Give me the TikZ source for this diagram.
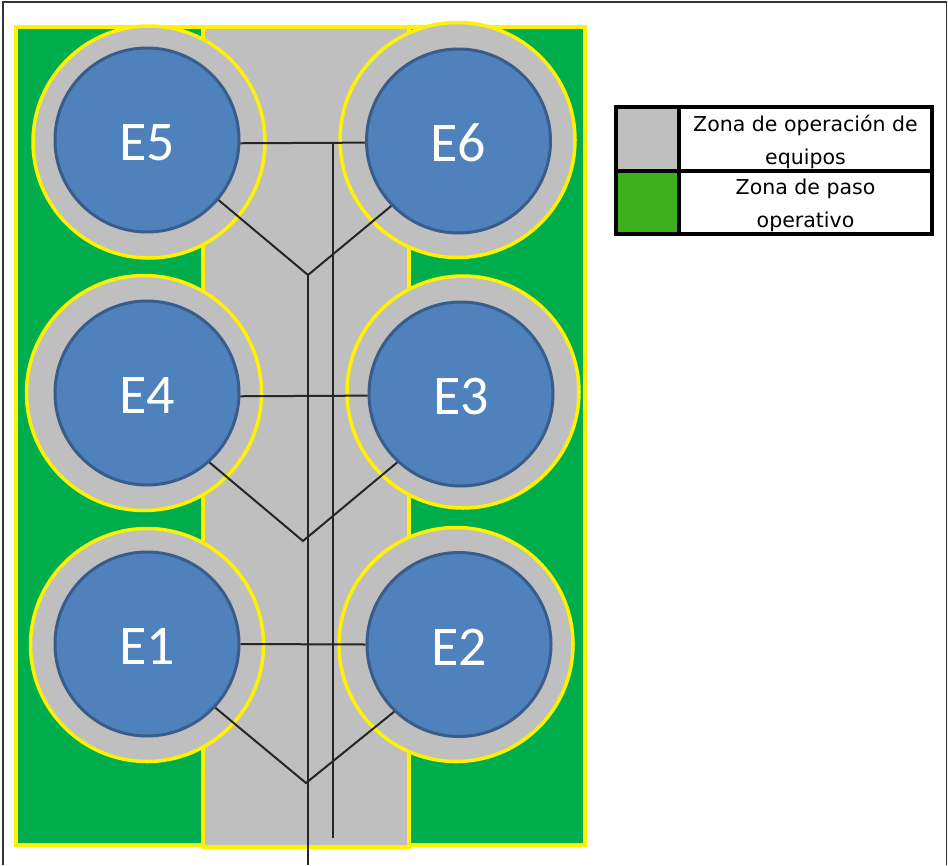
\documentclass[tikz,border=0pt]{standalone}
\usepackage{xcolor}
\usepackage{fontspec}
\setmainfont{Carlito}
\newfontfamily\legendfont{DejaVu Sans}
\usetikzlibrary{positioning}
\definecolor{zonegreen}{HTML}{00AD4D}
\definecolor{legendgreen}{HTML}{3CB01F}
\definecolor{zonegray}{HTML}{BFBFBF}
\definecolor{tankblue}{HTML}{4F81BD}
\definecolor{tankedge}{HTML}{385D8A}
\tikzset{
  zone/.style={draw=yellow,line width=3.5pt},
  ring/.style={circle,draw=yellow,fill=zonegray,line width=3.5pt,inner sep=0pt,minimum size=#1},
  tank/.style={circle,draw=tankedge,fill=tankblue,line width=3pt,text=white,inner sep=0pt,minimum size=184pt,font=\fontsize{56}{56}\selectfont},
  pipe/.style={draw=black!85,line width=2pt},
  swatch/.style={draw=black,line width=4pt,minimum width=63pt,minimum height=63.5pt,inner sep=0pt},
  legendcell/.style={draw=black,line width=4pt,fill=white,minimum width=253pt,minimum height=63.5pt,inner sep=0pt},
  legendtext/.style={inner sep=0pt,align=center,font=\legendfont\fontsize{20.5}{33}\selectfont}
}
\begin{document}
\begin{tikzpicture}[x=1pt,y=-1pt]
        \useasboundingbox (0,0) rectangle (948,865);
        \fill[white] (0,0) rectangle (948,865);
        \draw[black!80,line width=1.5pt] (3,865) -- (3,2) -- (946.5,2) -- (946.5,865);
        % zones
        \draw[zone,fill=zonegreen] (16,27) rectangle (585,845);
        \draw[zone,fill=zonegray] (203,27) rectangle (409,847);
        \foreach \name/\x/\y/\d in {R5/149/142/232, R6/457.5/140/235, R4/144/393/235, R3/463/392/232, R1/147/645/233, R2/456/644.5/234}
          \node[ring=\d pt] (\name) at (\x,\y) {};
        % tanks
        \foreach \name/\x/\y in {E5/147/140, E6/458.5/141, E4/147/393, E3/461/394, E1/147/644, E2/459/644.5}
          \node[tank] (\name) at (\x,\y) {\raisebox{-20.5pt}[0pt][0pt]{\name}};
        % junctions
        \coordinate (J56) at (308,275);
        \coordinate (J43) at (303,541);
        \coordinate (J12) at (306,783);
        \coordinate (T1) at (333,143);
        \coordinate (T1end) at (333,838);
        \coordinate (T2end) at (308,865);
        \draw[pipe] (E5.-2) -- (E6.181);
        \draw[pipe] (E4.-2) -- (E3.181);
        \draw[pipe] (E1.0) -- (E2.180);
        \draw[pipe] (T1) -- (T1end);
        \draw[pipe] (J56) -- (T2end);
        \draw[pipe] (E5.-40) -- (J56) -- (E6.-136.6);
        \draw[pipe] (E4.-48.5) -- (J43) -- (E3.-133.7);
        \draw[pipe] (E1.-43.2) -- (J12) -- (E2.-134.3);
        % legend
        \node[swatch,fill=zonegray] (S1) at (647.5,139) {};
        \node[legendcell,right=0pt of S1,xshift=-4pt] (C1) {};
        \node[legendtext] (L1) at ([yshift=-3pt]C1.center) {Zona de operación de\\equipos};
        \node[swatch,fill=legendgreen,below=0pt of S1,yshift=4pt] (S2) {};
        \node[legendcell,right=0pt of S2,xshift=-4pt] (C2) {};
        \node[legendtext] (L2) at ([yshift=-3pt]C2.center) {Zona de paso\\operativo};
      \end{tikzpicture}
\end{document}
